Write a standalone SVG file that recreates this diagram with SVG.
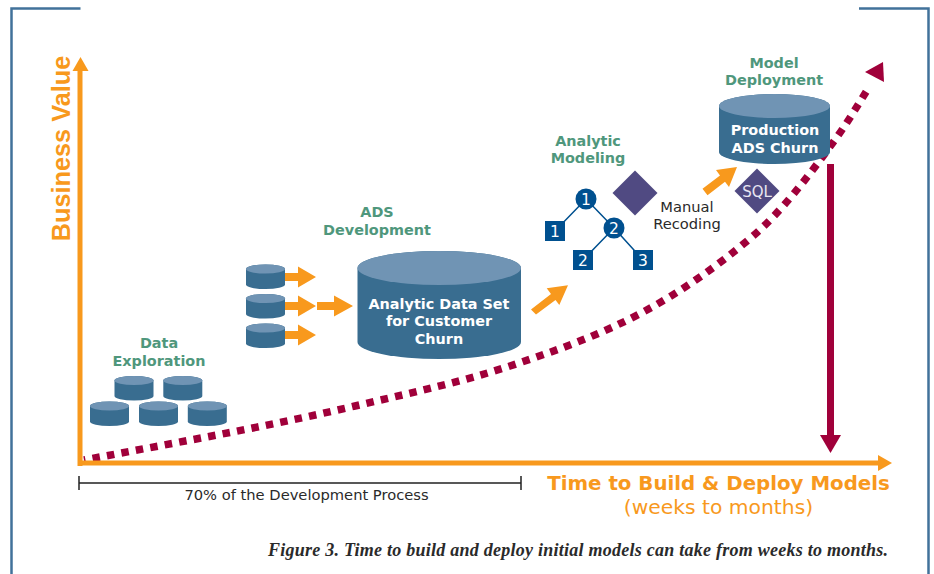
<svg xmlns="http://www.w3.org/2000/svg" width="934" height="574" viewBox="0 0 934 574">
<style>
text{font-family:"DejaVu Sans",Verdana,sans-serif;text-anchor:middle}
.lbl{fill:#4f977c;font-weight:700;font-size:14.4px}
.cyl{fill:#fff;font-weight:700;font-size:14.4px}
.or{fill:#f8991d}
.top{fill:#7094b4}
.body{fill:#396d90}
.tree{fill:#00508f}
.wt{fill:#fff;font-size:15.5px}
.dia{fill:#504a82}
.dark{fill:#2a2a2a;font-size:14.7px}
.frame{fill:none;stroke:#41729a;stroke-width:2.5}
</style>
<defs>
<g id="smallcyl"><path class="body" d="M0 4.5A19.5 4.5 0 0 1 39 4.5V20A19.5 4.5 0 0 1 0 20Z"/><ellipse class="top" cx="19.5" cy="4.5" rx="19.5" ry="4.5"/></g>
<polygon id="oarrow" class="or" points="0,-4 13,-4 13,-10.5 31,0 13,10.5 13,4 0,4"/>
</defs>
<g id="frame">
<path class="frame" d="M11.5 574V8.5H80.500"/>
<path class="frame" d="M859 8.500H928.500V574"/>
</g>
<g id="connectors">
<path d="M84 460C174 443 265 427 355 406C407 393.800 458 383 510 366C555 351 600 335.300 645 311C681 291.600 717 266.600 753 236C781 212 809 176 837 137C847.700 122 858.300 104.600 869 87" fill="none" stroke="#a0003a" stroke-width="7.500" stroke-dasharray="7.500 7.200" stroke-dashoffset="6"/>
<polygon points="865,72 883,62 884,82" fill="#a0003a"/>
<path d="M80 466V70" fill="none" stroke="#f8991d" stroke-width="5"/>
<polygon class="or" points="80.500,57 88.500,71 72.500,71"/>
<path d="M78 463H880" fill="none" stroke="#f8991d" stroke-width="5"/>
<polygon class="or" points="892,463 878,455 878,471"/>
<path d="M830.500 164V437" fill="none" stroke="#a0003a" stroke-width="7"/>
<polygon points="820,435 841,435 830.500,453" fill="#a0003a"/>
<use href="#oarrow" x="285" y="277"/>
<use href="#oarrow" x="285" y="306"/>
<use href="#oarrow" x="285" y="335"/>
<polygon class="or" points="317,302 334,302 334,295.500 353,306 334,316.500 334,310 317,310"/>
<polygon class="or" points="531,309.500 551,293.900 546.700,288.300 568,285.300 559.300,305 555.500,300 536,314.500"/>
<polygon class="or" points="702.500,188.800 720,175.400 716,170 737,167 729,187 725,181.700 707.500,195.200"/>
<path d="M586 199L555 231M586 199L614 228M614 228L583 260M614 228L643 260" fill="none" stroke="#00508f" stroke-width="1.500"/>
<path d="M79 483H521M79 476V490M521 476V490" fill="none" stroke="#222" stroke-width="1.500"/>
</g>
<g id="data-exploration">
<text class="lbl" x="159" y="348">Data</text>
<text class="lbl" x="159" y="366">Exploration</text>
<use href="#smallcyl" x="114.500" y="376"/>
<use href="#smallcyl" x="163.300" y="376"/>
<use href="#smallcyl" x="90" y="401.500"/>
<use href="#smallcyl" x="139" y="401.500"/>
<use href="#smallcyl" x="187.800" y="401.500"/>
</g>
<g id="source-tables">
<use href="#smallcyl" x="246" y="264.500"/>
<use href="#smallcyl" x="246" y="294"/>
<use href="#smallcyl" x="246" y="323.500"/>
</g>
<g id="ads-development">
<text class="lbl" x="377" y="217">ADS</text>
<text class="lbl" x="377" y="235">Development</text>
<path class="body" d="M357.500 268A81.750 17 0 0 1 521 268V342A81.750 17 0 0 1 357.500 342Z"/>
<ellipse class="top" cx="439.250" cy="268" rx="81.750" ry="17"/>
<text class="cyl" x="439" y="309">Analytic Data Set</text>
<text class="cyl" x="439" y="326">for Customer</text>
<text class="cyl" x="439" y="344">Churn</text>
</g>
<g id="analytic-modeling">
<text class="lbl" x="588" y="146">Analytic</text>
<text class="lbl" x="588" y="163">Modeling</text>
<circle class="tree" cx="586" cy="199" r="10.500"/>
<circle class="tree" cx="614" cy="228" r="10.500"/>
<rect class="tree" x="545" y="221" width="20" height="20"/>
<rect class="tree" x="573" y="250" width="20" height="20"/>
<rect class="tree" x="633" y="250" width="20" height="20"/>
<text class="wt" x="586" y="204.500">1</text>
<text class="wt" x="614" y="233.500">2</text>
<text class="wt" x="555" y="236.500">1</text>
<text class="wt" x="583" y="265.500">2</text>
<text class="wt" x="643" y="265.500">3</text>
<polygon class="dia" points="635,170.500 657.500,193 635,215.500 612.500,193"/>
</g>
<g id="manual-recoding">
<text class="dark" x="687" y="212">Manual</text>
<text class="dark" x="687" y="229">Recoding</text>
</g>
<g id="model-deployment">
<text class="lbl" x="774" y="68">Model</text>
<text class="lbl" x="774" y="85">Deployment</text>
<path class="body" d="M719 106A55.500 12 0 0 1 830 106V152A55.500 12 0 0 1 719 152Z"/>
<ellipse class="top" cx="774.500" cy="106" rx="55.500" ry="12"/>
<text class="cyl" x="775" y="135">Production</text>
<text class="cyl" x="775" y="153">ADS Churn</text>
</g>
<g id="sql">
<polygon class="dia" points="757,168.500 779.500,191 757,213.500 734.500,191"/>
<text x="757" y="197" font-size="15" fill="#e8e6f2">SQL</text>
</g>
<g id="labels">
<text transform="translate(69.800 148.500) rotate(-90)" font-size="25.300" font-weight="700" fill="#f8991d" style="font-family:'Liberation Sans',Arial,sans-serif">Business Value</text>
<text class="dark" x="306.500" y="500">70% of the Development Process</text>
<text x="718.500" y="490" font-size="19.800" font-weight="700" fill="#f8991d">Time to Build &amp; Deploy Models</text>
<text x="718.500" y="514" font-size="20.300" fill="#f8991d">(weeks to months)</text>
<text x="578" y="556" font-size="18" font-weight="700" font-style="italic" fill="#2a2a2a" textLength="620" lengthAdjust="spacing" style="font-family:'Liberation Serif',serif">Figure 3. Time to build and deploy initial models can take from weeks to months.</text>
</g>
</svg>
